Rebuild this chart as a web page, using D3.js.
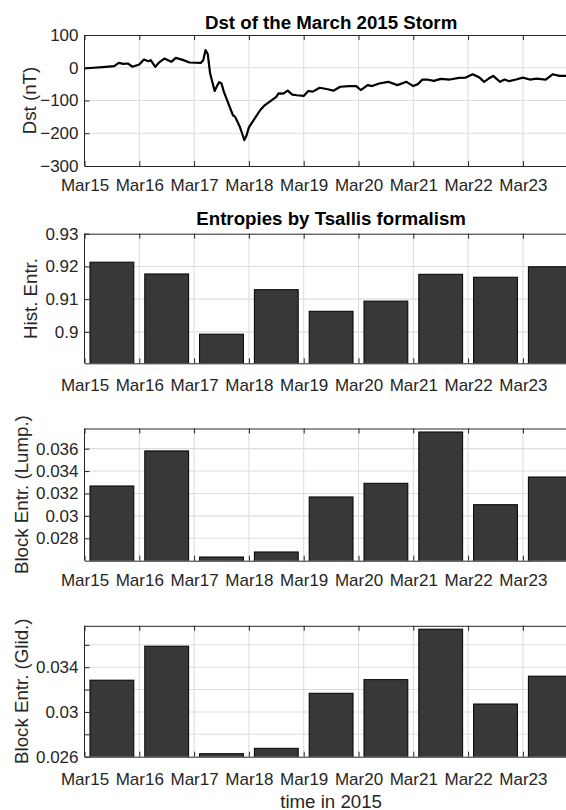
<!DOCTYPE html>
<html>
<head>
<meta charset="utf-8">
<script src="https://cdn.jsdelivr.net/npm/d3@7"></script>
<style>
  html, body { margin: 0; padding: 0; background: #fff; overflow: hidden; }
  svg { display: block; font-family: "Liberation Sans", Arial, Helvetica, sans-serif; }
</style>
</head>
<body>
<svg id="fig" width="566" height="810"></svg>
<script>
// ---- data -------------------------------------------------------------
// day bins (March 2015, UT) used for the daily entropy bars
const dayOfMonth = [15, 16, 17, 18, 19, 20, 21, 22, 23];
const dayLabels  = ["Mar15", "Mar16", "Mar17", "Mar18", "Mar19", "Mar20", "Mar21", "Mar22", "Mar23"];

// Dst index: hours after 2015-03-15 00:00 UT and value in nT
const dstHours = [0, 4, 8, 13, 15, 17, 19, 21, 24, 26, 28, 29, 31, 33, 35, 38, 40, 43, 46, 51,
  52, 53, 54, 55, 57, 58, 59, 60, 61, 63, 65, 66, 67, 68, 69, 70, 71, 72, 75, 77,
  79, 81, 84, 85, 87, 89, 91, 93, 96, 98, 100, 103, 106, 109, 112, 116, 119, 121, 124, 126,
  129, 133, 137, 141, 144, 146, 148, 150, 153, 156, 160, 164, 167, 170, 173, 175, 177, 179, 182, 184,
  186, 189, 192, 195, 198, 202, 205, 208, 211, 215];
const dstValues = [-2, 0, 2, 5, 15, 12, 13, 3, 10, 25, 20, 23, 3, 18, 28, 18, 30, 24, 16, 15,
  23, 54, 41, -17, -71, -56, -44, -48, -73, -109, -145, -150, -165, -180, -200, -221, -206, -182, -150, -129,
  -114, -104, -89, -78, -79, -70, -82, -84, -86, -71, -73, -61, -65, -70, -58, -56, -56, -68, -53, -56,
  -48, -43, -53, -43, -56, -50, -36, -36, -40, -34, -36, -31, -30, -20, -30, -43, -33, -25, -43, -36,
  -41, -36, -30, -36, -33, -36, -20, -25, -25, -27];

// Tsallis entropies per day
const histEntropy  = [0.9213, 0.9177, 0.8993, 0.9129, 0.9063, 0.9094, 0.9176, 0.9167, 0.9199];
const blockLumping = [0.03267, 0.03580, 0.02633, 0.02678, 0.03169, 0.03291, 0.03749, 0.03100, 0.03347];
const blockGliding = [0.03284, 0.03588, 0.02627, 0.02675, 0.03167, 0.03289, 0.03740, 0.03071, 0.03320];

// axis ticks
const dstTicks  = [100, 0, -100, -200, -300];
const histTicks = [0.93, 0.92, 0.91, 0.90];
const lumpTicks = [0.028, 0.030, 0.032, 0.034, 0.036];
const glidTicks = [0.026, 0.028, 0.030, 0.032, 0.034, 0.036];
const glidLabelled = [0.026, 0.030, 0.034];

// ---- layout -----------------------------------------------------------
const svg = d3.select("#fig");
svg.append("rect").attr("width", 566).attr("height", 810).attr("fill", "#fff");

const X0 = 84.5, X1 = 577.7;
const DAY = 864e5;
const t0 = Date.UTC(2015, 2, 15);
const x = d3.scaleUtc().domain([new Date(t0), new Date(Date.UTC(2015, 2, 24))]).range([X0, X1]);
const dayDates = dayOfMonth.map(d => new Date(Date.UTC(2015, 2, d)));

const TICK_FS = 17, LABEL_FS = 18.7;
const INK = "#262626", GRID = "#dedede", BAR = "#383838";

function panel(opt) {
  const y = d3.scaleLinear().domain(opt.domain).range([opt.bottom, opt.top]);
  const g = svg.append("g");
  const clipId = "clip" + opt.id;
  svg.append("clipPath").attr("id", clipId)
    .append("rect").attr("x", X0).attr("y", opt.top).attr("width", X1 - X0).attr("height", opt.bottom - opt.top);

  // grid
  const grid = g.append("g").attr("stroke", GRID).attr("stroke-width", 1.1);
  grid.selectAll("line.v").data(dayDates.slice(1)).join("line")
    .attr("x1", d => x(d)).attr("x2", d => x(d)).attr("y1", opt.top).attr("y2", opt.bottom);
  grid.selectAll("line.h").data(opt.ticks.filter(v => y(v) > opt.top + 0.5 && y(v) < opt.bottom - 0.5)).join("line")
    .attr("x1", X0).attr("x2", X1).attr("y1", d => y(d)).attr("y2", d => y(d));

  const marks = g.append("g").attr("clip-path", `url(#${clipId})`);
  opt.draw(marks, y);

  // axes (inward ticks)
  const bottomAxis = d3.axisBottom(x).tickValues(dayDates).tickSizeInner(-5).tickSizeOuter(0)
    .tickPadding(opt.xPad).tickFormat((d, i) => dayLabels[i]);
  const gb = g.append("g").attr("transform", `translate(0,${opt.bottom})`).call(bottomAxis);
  const topAxis = d3.axisTop(x).tickValues(dayDates).tickSizeInner(-5).tickSizeOuter(0).tickFormat("");
  const gt = g.append("g").attr("transform", `translate(0,${opt.top})`).call(topAxis);
  const leftAxis = d3.axisLeft(y).tickValues(opt.ticks).tickSizeInner(-5).tickSizeOuter(0).tickPadding(6)
    .tickFormat(opt.fmt);
  const gl = g.append("g").attr("transform", `translate(${X0},0)`).call(leftAxis);
  // y domain covers the full box
  gl.select(".domain").attr("d", `M0,${opt.top}V${opt.bottom}`);
  for (const a of [gb, gt, gl]) {
    a.selectAll("path, line").attr("stroke", INK).attr("stroke-width", 1);
    a.selectAll("text").attr("fill", INK).attr("font-size", TICK_FS).attr("font-family", null);
  }

  // y label
  g.append("text")
    .attr("transform", `translate(${opt.ylabelX},${(opt.top + opt.bottom) / 2}) rotate(-90)`)
    .attr("text-anchor", "middle").attr("font-size", LABEL_FS).attr("fill", INK)
    .text(opt.ylabel);

  if (opt.title) {
    g.append("text").attr("x", (X0 + X1) / 2).attr("y", opt.titleY)
      .attr("text-anchor", "middle").attr("font-size", LABEL_FS).attr("font-weight", "bold")
      .attr("fill", "#000").text(opt.title);
  }
  return y;
}

function bars(values) {
  return (sel, y) => {
    sel.selectAll("rect").data(values).join("rect")
      .attr("x", (d, i) => x(new Date(dayDates[i].getTime() + 0.1 * DAY)))
      .attr("width", (d, i) => x(new Date(dayDates[i].getTime() + 0.9 * DAY)) - x(new Date(dayDates[i].getTime() + 0.1 * DAY)))
      .attr("y", d => y(d))
      .attr("height", d => y.range()[0] - y(d) + 1)
      .attr("fill", BAR).attr("stroke", "#000").attr("stroke-width", 1);
  };
}

// Dst panel
panel({
  id: 1, top: 35, bottom: 166, domain: [-300, 100], ticks: dstTicks, fmt: d3.format("d"),
  xPad: 13, ylabel: "Dst (nT)", ylabelX: 36, title: "Dst of the March 2015 Storm", titleY: 28.5,
  draw: (sel, y) => {
    const line = d3.line()
      .x((h, i) => x(new Date(t0 + h * 36e5)))
      .y((h, i) => y(dstValues[i]));
    sel.append("path").attr("d", line(dstHours))
      .attr("fill", "none").attr("stroke", "#000").attr("stroke-width", 2.2).attr("stroke-linejoin", "round");
  }
});

// histogram entropy
panel({
  id: 2, top: 233.7, bottom: 363.3, domain: [0.8904, 0.93], ticks: histTicks, fmt: d => d3.format(".2f")(d).replace(/0$/, ""),
  xPad: 15.5, ylabel: "Hist. Entr.", ylabelX: 37, title: "Entropies by Tsallis formalism", titleY: 225,
  draw: bars(histEntropy)
});

// block entropy, lumping
panel({
  id: 3, top: 428.5, bottom: 560.7, domain: [0.026, 0.0378], ticks: lumpTicks,
  fmt: d => d3.format(".3f")(d).replace(/0$/, ""),
  xPad: 13, ylabel: "Block Entr. (Lump.)", ylabelX: 27.5,
  draw: bars(blockLumping)
});

// block entropy, gliding
panel({
  id: 4, top: 625.8, bottom: 756.7, domain: [0.026, 0.0377], ticks: glidTicks,
  fmt: d => glidLabelled.some(v => Math.abs(v - d) < 1e-9) ? d3.format(".3f")(d).replace(/0$/, "") : "",
  xPad: 16, ylabel: "Block Entr. (Glid.)", ylabelX: 27.5,
  draw: bars(blockGliding)
});

svg.append("text").attr("x", (X0 + X1) / 2).attr("y", 807.5)
  .attr("text-anchor", "middle").attr("font-size", LABEL_FS).attr("fill", INK)
  .text("time in 2015");
</script>
</body>
</html>
